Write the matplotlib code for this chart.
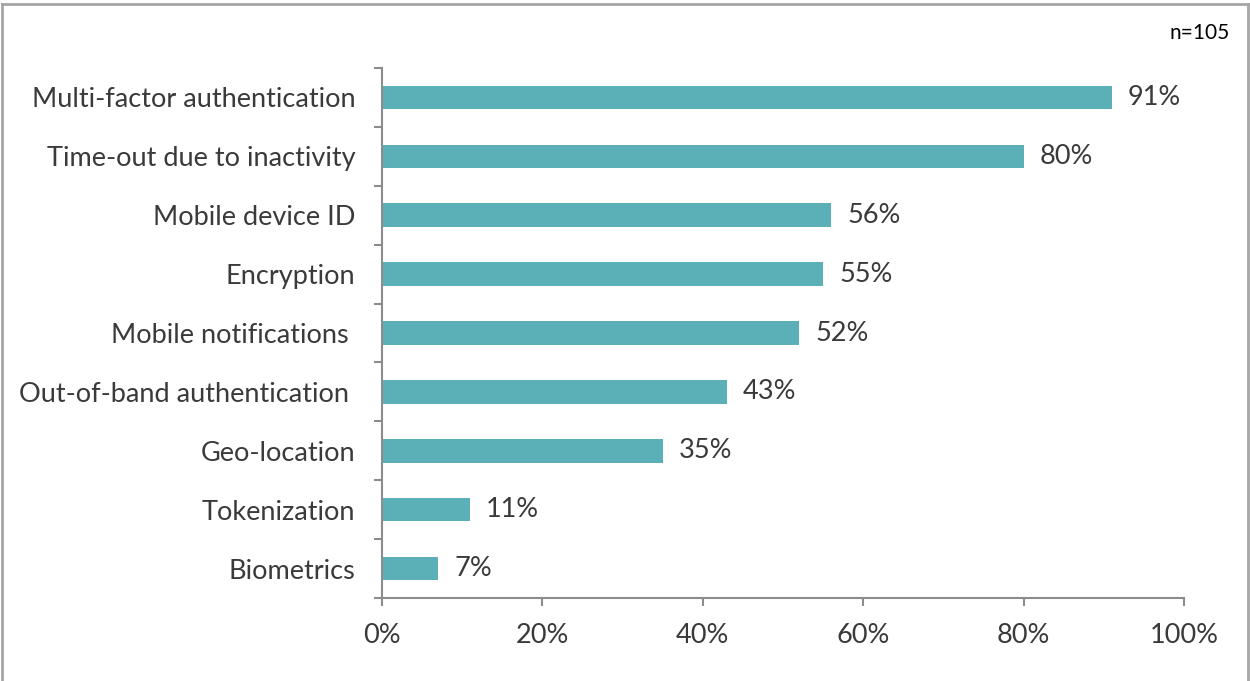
import matplotlib
matplotlib.use('Agg')
import matplotlib.pyplot as plt
from matplotlib.lines import Line2D
import numpy as np

categories = ['Multi-factor authentication', 'Time-out due to inactivity', 'Mobile device ID',
              'Encryption', 'Mobile notifications ', 'Out-of-band authentication ',
              'Geo-location', 'Tokenization', 'Biometrics']
values = [91, 80, 56, 55, 52, 43, 35, 11, 7]
xticks = [0, 20, 40, 60, 80, 100]

plt.rcParams['font.family'] = ['Lato', 'DejaVu Sans']
txt = '#3a3a3a'
axis_col = '#8c8c8c'
bar_col = '#5bb0b8'
fs = 19.5

fig = plt.figure(figsize=(12.5, 6.81), dpi=100)
ax = fig.add_axes([0.3056, 0.1219, 0.6416, 0.7782])

n = len(categories)
y = np.arange(n)[::-1]
ax.barh(y, values, height=0.4, color=bar_col)
for yi, v in zip(y, values):
    ax.text(v + 2, yi, f'{v}%', va='center', ha='left', fontsize=fs, color=txt)

ax.set_xlim(0, 100)
ax.set_ylim(-0.5, n - 0.5)
ax.set_xticks(xticks)
ax.set_xticklabels([f'{t}%' for t in xticks], fontsize=fs, color=txt)
ax.set_yticks(y)
ax.set_yticklabels(categories, fontsize=fs, color=txt)
ax.tick_params(axis='y', length=0, pad=19)
ax.tick_params(axis='x', length=6, width=1.5, color=axis_col, pad=12)

# category separators as minor ticks on the y axis
ax.set_yticks(np.arange(n + 1) - 0.5, minor=True)
ax.tick_params(axis='y', which='minor', length=6, width=1.5, color=axis_col)

for s in ['top', 'right']:
    ax.spines[s].set_visible(False)
for s in ['left', 'bottom']:
    ax.spines[s].set_color(axis_col)
    ax.spines[s].set_linewidth(1.5)

fig.text(1230 / 1250, 1 - 33 / 681, 'n=105', ha='right', va='center', fontsize=15, color='black')

# outer frame
fc = '#a6a6a6'
fig.add_artist(Line2D([0.0015, 0.0015], [0, 0.994], transform=fig.transFigure, color=fc, lw=2))
fig.add_artist(Line2D([0.0015, 0.998], [0.994, 0.994], transform=fig.transFigure, color=fc, lw=2))
fig.add_artist(Line2D([0.998, 0.998], [0, 0.994], transform=fig.transFigure, color=fc, lw=2))

fig.savefig('out.png', dpi=100)
